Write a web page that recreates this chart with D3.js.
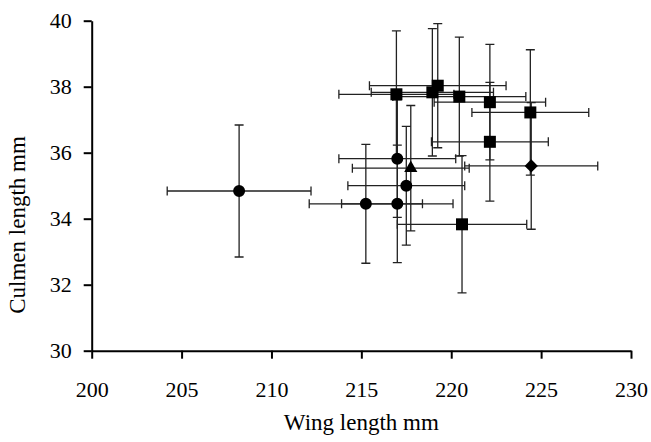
<!DOCTYPE html>
<html>
<head>
<meta charset="utf-8">
<script src="https://cdn.jsdelivr.net/npm/d3@7"></script>
<style>
body { margin: 0; background: #fff; }
text { font-family: "Liberation Serif", "Times New Roman", serif; fill: #000; }
</style>
</head>
<body>
<div class="chart"></div>
<script>
// one entry per population: mean wing / culmen with SD bars
var marker     = ["circle","circle","circle","circle","circle","triangle","diamond",
                  "square","square","square","square","square","square","square","square"];
var wingLength = [208.2, 215.25, 217.0, 217.0, 217.5, 217.75, 224.45,
                  216.95, 218.95, 219.25, 220.45, 222.15, 222.15, 224.4, 220.6];
var wingSD     = [4.0, 3.15, 3.1, 3.25, 3.25, 3.25, 3.7,
                  3.2, 3.4, 3.8, 3.7, 3.1, 3.25, 3.25, 3.6];
var culmenLength = [34.84, 34.45, 34.45, 35.82, 35.0, 35.53, 35.6,
                    37.77, 37.83, 38.03, 37.7, 37.53, 36.33, 37.22, 33.83];
var culmenSD     = [2.0, 1.8, 1.78, 1.78, 1.8, 1.9, 1.92,
                    1.92, 1.93, 1.88, 1.8, 1.75, 1.8, 1.9, 2.08];
var xTicks = [200, 205, 210, 215, 220, 225, 230];
var yTicks = [30, 32, 34, 36, 38, 40];

var width = 651, height = 442;
var svg = d3.select(".chart").append("svg")
    .attr("width", width)
    .attr("height", height);

var x = d3.scaleLinear().domain([200, 230]).range([91.7, 631]);
var y = d3.scaleLinear().domain([30, 40]).range([350.7, 20.7]);

var data = marker.map(function(m, i) {
  return {shape: m, x: wingLength[i], xe: wingSD[i], y: culmenLength[i], ye: culmenSD[i]};
});

// axes
var xAxis = svg.append("g")
    .attr("transform", "translate(0," + y(30) + ")")
    .call(d3.axisBottom(x).tickValues(xTicks).tickSize(8).tickSizeOuter(0).tickPadding(23));
var yAxis = svg.append("g")
    .attr("transform", "translate(" + x(200) + ",0)")
    .call(d3.axisLeft(y).tickValues(yTicks).tickSize(8).tickSizeOuter(0).tickPadding(12));

[xAxis, yAxis].forEach(function(ax) {
  ax.select(".domain").attr("stroke", "#000").attr("stroke-width", 2);
  ax.selectAll(".tick line").attr("stroke", "#000").attr("stroke-width", 2);
  ax.selectAll(".tick text")
    .style("font-family", '"Liberation Serif", "Times New Roman", serif')
    .attr("font-size", 22)
    .attr("fill", "#000");
});

svg.append("text")
    .attr("x", (x(200) + x(230)) / 2)
    .attr("y", 430)
    .attr("text-anchor", "middle")
    .attr("font-size", 23)
    .text("Wing length mm");

svg.append("text")
    .attr("transform", "translate(25,225) rotate(-90)")
    .attr("text-anchor", "middle")
    .attr("font-size", 23)
    .text("Culmen length mm");

// error bars
var cap = 4.5;
var bars = svg.append("g")
    .attr("stroke", "#222")
    .attr("stroke-width", 1.3)
    .attr("fill", "none");

bars.selectAll("path.err")
  .data(data)
  .enter().append("path")
    .attr("class", "err")
    .attr("d", function(d) {
      var cx = x(d.x), cy = y(d.y);
      var x0 = x(d.x - d.xe), x1 = x(d.x + d.xe);
      var y0 = y(d.y - d.ye), y1 = y(d.y + d.ye);
      return "M" + x0 + "," + cy + "H" + x1
        + "M" + x0 + "," + (cy - cap) + "V" + (cy + cap)
        + "M" + x1 + "," + (cy - cap) + "V" + (cy + cap)
        + "M" + cx + "," + y0 + "V" + y1
        + "M" + (cx - cap) + "," + y0 + "H" + (cx + cap)
        + "M" + (cx - cap) + "," + y1 + "H" + (cx + cap);
    });

// markers
var symbols = {
  circle: d3.symbol().type(d3.symbolCircle).size(113),
  square: d3.symbol().type(d3.symbolSquare).size(144),
  triangle: d3.symbol().type(d3.symbolTriangle).size(75),
  diamond: d3.symbol().type(d3.symbolSquare).size(88)
};

svg.append("g").selectAll("path.pt")
  .data(data)
  .enter().append("path")
    .attr("class", "pt")
    .attr("d", function(d) { return symbols[d.shape](); })
    .attr("fill", "#000")
    .attr("transform", function(d) {
      return "translate(" + x(d.x) + "," + y(d.y) + ")" + (d.shape == "diamond" ? " rotate(45)" : "");
    });
</script>
</body>
</html>
